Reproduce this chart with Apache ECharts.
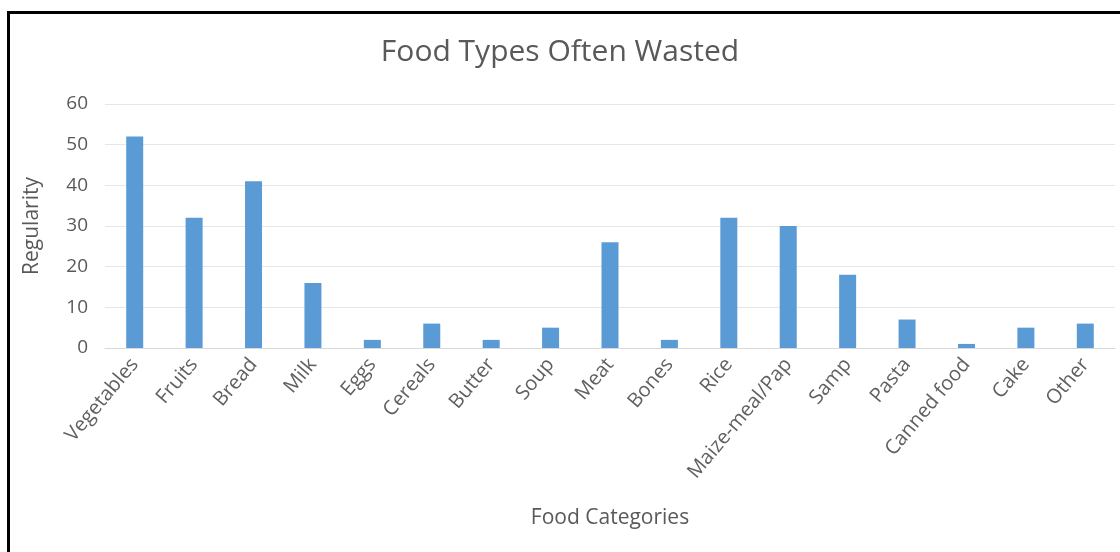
<!DOCTYPE html>
<html><head><meta charset="utf-8">
<script src="https://cdn.jsdelivr.net/npm/echarts@6/dist/echarts.min.js"></script>
<style>html,body{margin:0;padding:0;background:#fff}#c{width:1120px;height:552px}</style>
</head><body><div id="c"></div>
<script>
const categories = ["Vegetables","Fruits","Bread","Milk","Eggs","Cereals","Butter","Soup","Meat","Bones","Rice","Maize-meal/Pap","Samp","Pasta","Canned food","Cake","Other"];
const values = [52,32,41,16,2,6,2,5,26,2,32,30,18,7,1,5,6];
const yTicks = {min:0,max:60,interval:10};
const FONT = 'Open Sans';
const chart = echarts.init(document.getElementById('c'));
chart.setOption({
  animation:false,
  backgroundColor:'#fff',
  graphic:[{type:'rect',shape:{x:8.5,y:12.5,width:1300,height:700},style:{fill:'none',stroke:'#000',lineWidth:3},z:100}],
  title:{text:'Food Types Often Wasted',left:'center',top:32,textStyle:{fontFamily:FONT,fontSize:30,fontWeight:'normal',color:'#595959'}},
  grid:{left:105,right:5,top:104,bottom:204,containLabel:false},
  xAxis:{type:'category',data:categories,
    name:'Food Categories',nameLocation:'middle',nameGap:160,
    nameTextStyle:{fontFamily:FONT,fontSize:21,color:'#595959'},
    axisLine:{lineStyle:{color:'#D9D9D9',width:1}},axisTick:{show:false},
    axisLabel:{rotate:50,interval:0,margin:13,fontFamily:FONT,fontSize:20,color:'#606060'}},
  yAxis:{type:'value',min:yTicks.min,max:yTicks.max,interval:yTicks.interval,
    name:'Regularity',nameLocation:'middle',nameGap:62,
    nameTextStyle:{fontFamily:FONT,fontSize:21,color:'#595959'},
    axisLine:{show:false},axisTick:{show:false},
    axisLabel:{margin:17,fontFamily:FONT,fontSize:19,color:'#595959'},
    splitLine:{lineStyle:{color:'#E6E6E6',width:1}}},
  series:[{type:'bar',data:values,barWidth:17,itemStyle:{color:'#5B9BD5'}}]
});
</script></body></html>
